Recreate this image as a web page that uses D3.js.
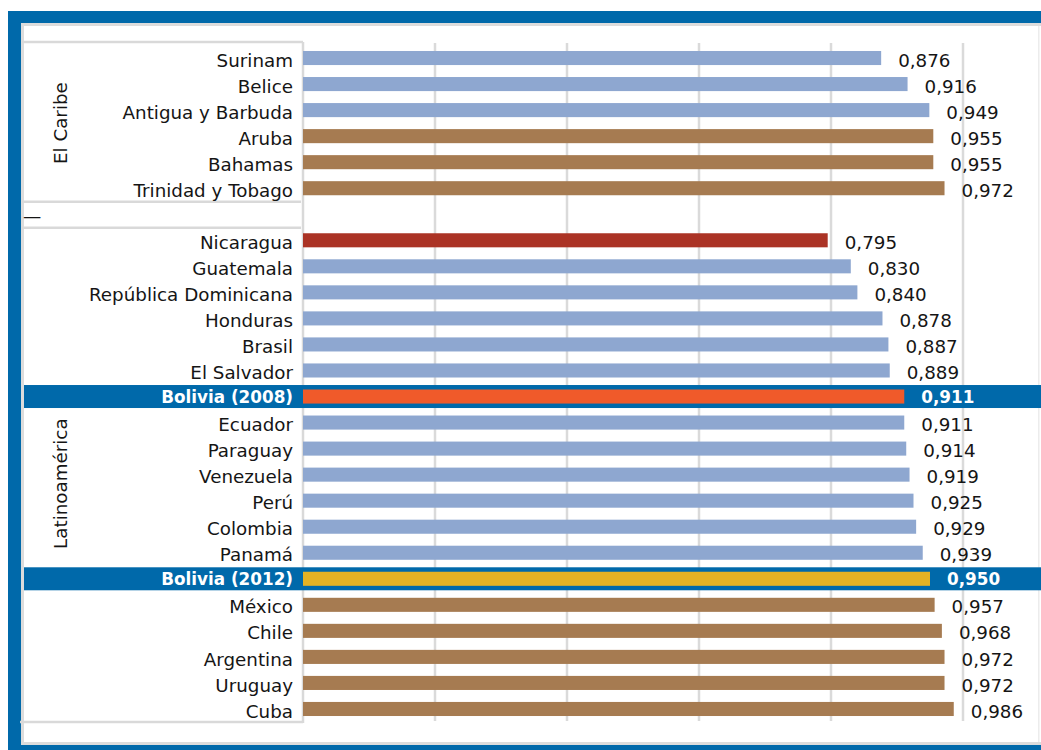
<!DOCTYPE html>
<html>
<head>
<meta charset="utf-8">
<script src="https://cdn.jsdelivr.net/npm/d3@7"></script>
<style>
  html, body { margin: 0; padding: 0; background: #fff; }
  svg { display: block; font-family: "DejaVu Sans", Verdana, sans-serif; }
</style>
</head>
<body>
<div id="chart"></div>
<script>
// --- datos -----------------------------------------------------------------
const caribeNames  = ["Surinam", "Belice", "Antigua y Barbuda", "Aruba", "Bahamas", "Trinidad y Tobago"];
const caribeValues = [0.876, 0.916, 0.949, 0.955, 0.955, 0.972];
const caribeKinds  = ["azul", "azul", "azul", "cafe", "cafe", "cafe"];

const latamNames  = ["Nicaragua", "Guatemala", "República Dominicana", "Honduras", "Brasil", "El Salvador",
                     "Bolivia (2008)", "Ecuador", "Paraguay", "Venezuela", "Perú", "Colombia", "Panamá",
                     "Bolivia (2012)", "México", "Chile", "Argentina", "Uruguay", "Cuba"];
const latamValues = [0.795, 0.830, 0.840, 0.878, 0.887, 0.889,
                     0.911, 0.911, 0.914, 0.919, 0.925, 0.929, 0.939,
                     0.950, 0.957, 0.968, 0.972, 0.972, 0.986];
const latamKinds  = ["rojo", "azul", "azul", "azul", "azul", "azul",
                     "bol2008", "azul", "azul", "azul", "azul", "azul", "azul",
                     "bol2012", "cafe", "cafe", "cafe", "cafe", "cafe"];

const groups = [
  { name: "El Caribe", names: caribeNames, values: caribeValues, kinds: caribeKinds },
  { name: "—", names: [], values: [], kinds: [] },          // fila vacía separadora
  { name: "Latinoamérica", names: latamNames, values: latamValues, kinds: latamKinds },
];
const gridTicks = [0.2, 0.4, 0.6, 0.8, 1.0];

// --- colores -----------------------------------------------------------------
const COL = {
  azul: "#8ea7d0", cafe: "#a67b51", rojo: "#ab3325",
  bol2008: "#f05a2a", bol2012: "#e4b224",
  frame: "#0069aa", grid: "#dadada", text: "#151515",
};

const W = 1041, H = 750;
const FS = 18.3, FS_B = 16.8;

// filas planas (la fila vacía del separador también ocupa una banda)
const rows = [];
groups.forEach((g, gi) => {
  if (!g.names.length) { rows.push({ id: "sep" + gi, group: gi, empty: true }); return; }
  g.names.forEach((n, i) => rows.push({ id: n, name: n, value: g.values[i], kind: g.kinds[i], group: gi }));
});

const svg = d3.select("#chart").append("svg").attr("width", W).attr("height", H);

const x = d3.scaleLinear().domain([0, 1]).range([303, 963]);
const y = d3.scaleBand().domain(rows.map(r => r.id)).range([45, 722]).paddingInner(0.46).paddingOuter(0.23);
const cy = id => y(id) + y.bandwidth() / 2;

// --- marco azul ------------------------------------------------------------
svg.append("rect").attr("x", 8).attr("y", 11).attr("width", W - 8).attr("height", 12).attr("fill", COL.frame);
svg.append("rect").attr("x", 8).attr("y", 11).attr("width", 13).attr("height", H - 11).attr("fill", COL.frame);
svg.append("rect").attr("x", 8).attr("y", 745).attr("width", W - 8).attr("height", 5).attr("fill", COL.frame);
svg.append("rect").attr("x", 21).attr("y", 23).attr("width", W - 21).attr("height", 3).attr("fill", "#dcdcdc");
svg.append("rect").attr("x", 21).attr("y", 23).attr("width", 3).attr("height", 722).attr("fill", "#dcdcdc");
svg.append("rect").attr("x", 21).attr("y", 742).attr("width", W - 21).attr("height", 3).attr("fill", "#dcdcdc");
svg.append("rect").attr("x", 1038).attr("y", 26).attr("width", 1.5).attr("height", 716).attr("fill", "#ececec");

// --- rejilla -------------------------------------------------------------------
svg.append("g").selectAll("line").data(gridTicks).join("line")
  .attr("x1", d => x(d)).attr("x2", d => x(d))
  .attr("y1", 43).attr("y2", 721)
  .attr("stroke", COL.grid).attr("stroke-width", 2.5);

// --- caja de etiquetas ------------------------------------------------------
const box = svg.append("g").attr("stroke", "#d9d9d9").attr("stroke-width", 2.5).attr("fill", "none");
box.append("line").attr("x1", 22).attr("x2", x(0)).attr("y1", 42).attr("y2", 42);
box.append("line").attr("x1", x(0)).attr("x2", x(0)).attr("y1", 42).attr("y2", 723);
box.append("line").attr("x1", 20).attr("x2", x(0)).attr("y1", 722).attr("y2", 722);
// separadores entre grupos: punto medio entre bandas
const step = y.step();
groups.forEach((g, gi) => {
  if (gi === 0) return;
  const first = rows.find(r => r.group === gi);
  const yy = cy(first.id) - step / 2 + 0.5;
  box.append("line").attr("x1", 22).attr("x2", x(0) - 2).attr("y1", yy).attr("y2", yy);
});

// --- filas destacadas (Bolivia) -------------------------------------------
const isHL = d => d.kind === "bol2008" || d.kind === "bol2012";
const hl = rows.filter(isHL);
svg.append("g").selectAll("rect").data(hl).join("rect")
  .attr("x", 24).attr("width", W - 24)
  .attr("y", d => cy(d.id) - 11.5).attr("height", 23)
  .attr("fill", COL.frame);

// --- barras -------------------------------------------------------------------
const data = rows.filter(r => !r.empty);
svg.append("g").selectAll("rect").data(data).join("rect")
  .attr("x", x(0)).attr("y", d => y(d.id))
  .attr("width", d => x(d.value) - x(0)).attr("height", y.bandwidth())
  .attr("fill", d => COL[d.kind]);

const fmt = v => d3.format(".3f")(v).replace(".", ",");

// etiquetas de categoría
svg.append("g").selectAll("text").data(data).join("text")
  .attr("x", 293).attr("y", d => cy(d.id)).attr("dy", d => isHL(d) ? "0.38em" : "0.47em")
  .attr("text-anchor", "end").attr("font-size", d => isHL(d) ? FS_B : FS)
  .attr("font-weight", d => isHL(d) ? "bold" : null)
  .attr("fill", d => isHL(d) ? "#fff" : COL.text)
  .text(d => d.name);

// valores
svg.append("g").selectAll("text").data(data).join("text")
  .attr("x", d => x(d.value) + 17).attr("y", d => cy(d.id)).attr("dy", d => isHL(d) ? "0.38em" : "0.47em")
  .attr("font-size", d => isHL(d) ? FS_B : FS)
  .attr("font-weight", d => isHL(d) ? "bold" : null)
  .attr("fill", d => isHL(d) ? "#fff" : COL.text)
  .text(d => fmt(d.value));

// --- etiquetas de grupo (verticales) ----------------------------------------
groups.forEach((g, gi) => {
  const gr = rows.filter(r => r.group === gi);
  const mid = (cy(gr[0].id) + cy(gr[gr.length - 1].id)) / 2;
  if (!g.names.length) {
    svg.append("text").attr("x", 23).attr("y", mid).attr("dy", "0.4em")
      .attr("font-size", FS).attr("fill", COL.text).text(g.name);
    return;
  }
  svg.append("text")
    .attr("transform", `translate(60,${mid + (gi === 2 ? 9 : 0)}) rotate(-90)`)
    .attr("text-anchor", "middle").attr("dy", "0.36em")
    .attr("font-size", FS).attr("fill", COL.text)
    .text(g.name);
});
</script>
</body>
</html>
